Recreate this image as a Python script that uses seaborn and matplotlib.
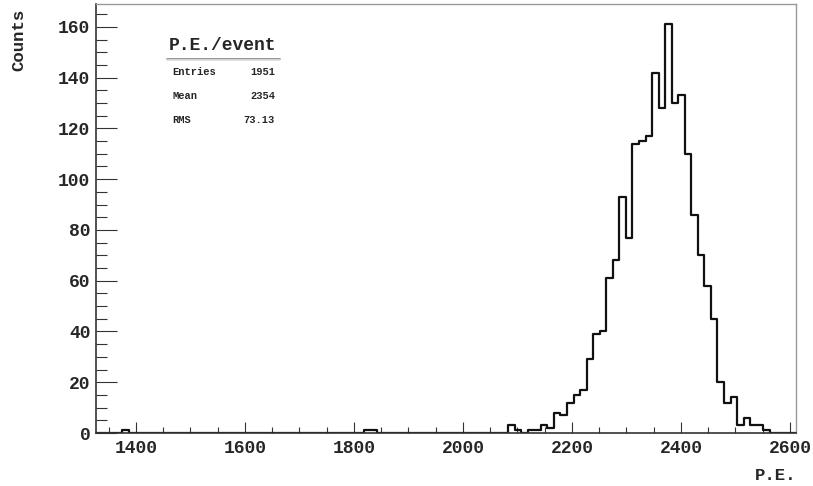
import numpy as np
import pandas as pd
import matplotlib
matplotlib.use("Agg")
import matplotlib.pyplot as plt
from matplotlib.ticker import MultipleLocator
import seaborn as sns

# Histogram definition (ROOT TH1: 107 bins of 12 P.E.)
hist_min = 1327
hist_max = 2611
bin_width = 12

# Counts per bin
counts = [
    0, 0, 0, 0, 1, 0, 0, 0, 0, 0,
    0, 0, 0, 0, 0, 0, 0, 0, 0, 0,
    0, 0, 0, 0, 0, 0, 0, 0, 0, 0,
    0, 0, 0, 0, 0, 0, 0, 0, 0, 0,
    0, 1, 1, 0, 0, 0, 0, 0, 0, 0,
    0, 0, 0, 0, 0, 0, 0, 0, 0, 0,
    0, 0, 0, 3, 1, 0, 1, 1, 3, 2,
    8, 7, 12, 15, 17, 29, 39, 40, 61, 68,
    93, 77, 114, 115, 117, 142, 128, 161, 130, 133,
    110, 86, 70, 58, 45, 20, 12, 14, 3, 6,
    3, 3, 1, 0, 0, 0, 0,
]

x_ticks = [1400, 1600, 1800, 2000, 2200, 2400, 2600]
y_ticks = [0, 20, 40, 60, 80, 100, 120, 140, 160]

stats_title = "P.E./event"
stats_names = ["Entries", "Mean", "RMS"]
stats_values = ["1951", "2354", "73.13"]

n_bins = len(counts)
centers = hist_min + bin_width * (np.arange(n_bins) + 0.5)
df = pd.DataFrame({"pe": centers, "n": counts})

sns.set_style("ticks")
FONT = "Liberation Mono"
plt.rcParams["font.family"] = [FONT, "DejaVu Sans"]
plt.rcParams["font.weight"] = "bold"

W, H = 813, 486
fig = plt.figure(figsize=(W / 100, H / 100), dpi=100)
ax = fig.add_axes([96 / W, 1 - 433 / H, 700 / W, 429 / H])

sns.histplot(data=df, x="pe", weights="n", binwidth=bin_width,
             binrange=(hist_min, hist_max), element="step",
             fill=False, color="#111111", linewidth=1.6, ax=ax)

ax.set_xlim(hist_min, hist_max)
ax.set_ylim(0, 169)
ax.set_xlabel("")
ax.set_ylabel("")

ax.set_xticks(x_ticks)
ax.set_yticks(y_ticks)
ax.xaxis.set_minor_locator(MultipleLocator(50))
ax.yaxis.set_minor_locator(MultipleLocator(5))

ax.tick_params(axis="y", which="major", direction="in", length=15, width=0.8,
               color="#333333", labelsize=13, pad=4)
ax.tick_params(axis="y", which="minor", direction="in", length=8, width=0.8,
               color="#333333")
ax.tick_params(axis="x", which="major", direction="in", length=8, width=0.8,
               color="#333333", labelsize=13, pad=5)
ax.tick_params(axis="x", which="minor", direction="in", length=4, width=0.8,
               color="#333333")
for lab in ax.get_xticklabels() + ax.get_yticklabels():
    lab.set_fontweight("bold")
    lab.set_family(FONT)

for s in ["top", "right"]:
    ax.spines[s].set_color("#999999")
    ax.spines[s].set_linewidth(1.0)
for s in ["left", "bottom"]:
    ax.spines[s].set_color("#333333")
    ax.spines[s].set_linewidth(1.2)

# axis titles
fig.text(19 / W, 1 - 40 / H, "Counts", rotation=90, ha="center", va="center",
         fontsize=12.5, fontweight="bold", family=FONT)
fig.text(796 / W, 1 - 475 / H, "P.E.", ha="right", va="center",
         fontsize=12.5, fontweight="bold", family=FONT)

# stats box
fig.text(222 / W, 1 - 46 / H, stats_title, ha="center", va="center",
         fontsize=13, fontweight="bold", family=FONT)
fig.add_artist(plt.Line2D([167 / W, 280 / W], [1 - 59 / H, 1 - 59 / H],
                          color="#888888", linewidth=1.2))
fig.add_artist(plt.Line2D([167 / W, 280 / W], [1 - 60.5 / H, 1 - 60.5 / H],
                          color="#dddddd", linewidth=1.2))
row_y = [72, 96, 120]
for name, val, yy in zip(stats_names, stats_values, row_y):
    fig.text(172 / W, 1 - yy / H, name, ha="left", va="center",
             fontsize=7.5, fontweight="bold", family=FONT)
    fig.text(275 / W, 1 - yy / H, val, ha="right", va="center",
             fontsize=7.5, fontweight="bold", family=FONT)

fig.savefig("out.png", dpi=100)
